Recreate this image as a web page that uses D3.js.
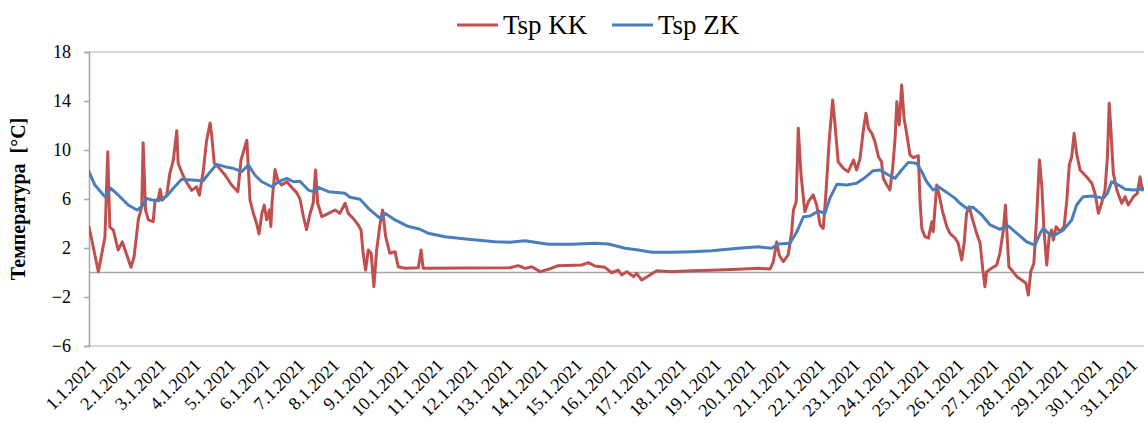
<!DOCTYPE html>
<html>
<head>
<meta charset="utf-8">
<script src="https://cdn.jsdelivr.net/npm/d3@7"></script>
<style>
  html, body { margin: 0; padding: 0; background: #fff; }
  svg { display: block; }
  text { font-family: "Liberation Serif", "Times New Roman", serif; fill: #000; }
</style>
</head>
<body>
<svg id="chart" width="1144" height="423"></svg>
<script>
// Day labels on the horizontal axis (one per day of January 2021)
const dayLabels = [
  "1.1.2021","2.1.2021","3.1.2021","4.1.2021","5.1.2021","6.1.2021","7.1.2021",
  "8.1.2021","9.1.2021","10.1.2021","11.1.2021","12.1.2021","13.1.2021","14.1.2021",
  "15.1.2021","16.1.2021","17.1.2021","18.1.2021","19.1.2021","20.1.2021","21.1.2021",
  "22.1.2021","23.1.2021","24.1.2021","25.1.2021","26.1.2021","27.1.2021","28.1.2021",
  "29.1.2021","30.1.2021","31.1.2021"
];

// Temperature axis ticks [°C]
const tempTicks = [-6, -2, 2, 6, 10, 14, 18];

// Series names
const seriesNames = ["Tsp KK", "Tsp ZK"];

// Tsp KK: [days since 1.1.2021 00:00, temperature °C]
const tspKK = [
  [0.00,3.74],[0.27,0.07],[0.46,2.9],[0.54,9.86],[0.60,3.7],[0.70,3.47],[0.84,1.84],
  [0.96,2.5],[1.04,1.84],[1.21,0.42],[1.30,1.29],[1.42,4.3],[1.52,5.37],[1.56,10.6],
  [1.63,5.1],[1.71,4.3],[1.85,4.15],[1.90,5.78],[2.00,6.05],[2.05,6.8],[2.11,5.9],
  [2.24,6.3],[2.33,8.1],[2.43,9.18],[2.53,11.58],[2.57,8.9],[2.67,8.2],[2.77,7.55],
  [2.96,6.7],[3.10,7.0],[3.18,6.3],[3.29,8.2],[3.39,10.8],[3.49,12.2],[3.54,11.1],
  [3.61,8.9],[3.73,8.6],[3.92,7.96],[4.11,7.14],[4.29,6.6],[4.38,9.18],[4.45,9.86],
  [4.55,10.8],[4.59,8.6],[4.64,5.9],[4.74,4.8],[4.83,4.0],[4.90,3.14],[4.98,4.8],
  [5.05,5.5],[5.12,4.3],[5.20,5.1],[5.24,3.74],[5.28,5.9],[5.36,8.4],[5.44,7.55],
  [5.55,7.14],[5.70,7.4],[5.84,6.95],[5.99,6.5],[6.08,6.0],[6.18,4.55],[6.27,3.5],
  [6.37,4.8],[6.46,5.65],[6.53,8.37],[6.59,5.65],[6.71,4.55],[6.90,4.83],[7.09,5.1],
  [7.23,4.83],[7.38,5.65],[7.47,4.83],[7.62,4.4],[7.76,3.88],[7.84,3.47],[7.90,1.57],
  [7.97,0.2],[8.05,1.84],[8.13,1.57],[8.21,-1.16],[8.29,1.84],[8.39,4.0],[8.46,5.1],
  [8.55,2.92],[8.67,1.57],[8.82,1.7],[8.91,0.47],[9.11,0.34],[9.49,0.39],[9.57,1.84],
  [9.63,0.34],[12.13,0.39],[12.37,0.56],[12.57,0.34],[12.76,0.47],[13.00,0.07],
  [13.24,0.26],[13.52,0.56],[14.20,0.61],[14.39,0.8],[14.58,0.53],[14.87,0.42],
  [15.06,-0.02],[15.25,0.2],[15.35,-0.2],[15.50,0.07],[15.69,-0.34],[15.78,-0.07],
  [15.93,-0.61],[16.12,-0.29],[16.36,0.15],[16.79,0.07],[17.37,0.15],[18.14,0.2],
  [18.71,0.26],[19.29,0.34],[19.63,0.29],[19.72,0.88],[19.82,2.5],[19.89,1.43],
  [20.01,0.88],[20.15,1.43],[20.25,3.33],[20.30,5.1],[20.38,5.78],[20.44,11.77],
  [20.52,7.96],[20.63,4.96],[20.73,5.78],[20.87,6.33],[20.97,5.5],[21.07,3.88],
  [21.16,3.6],[21.24,6.6],[21.33,10.68],[21.43,14.08],[21.50,12.04],[21.59,9.04],
  [21.74,8.5],[21.88,8.23],[22.03,9.18],[22.12,8.37],[22.22,9.32],[22.31,11.5],
  [22.39,13.0],[22.46,11.77],[22.56,11.36],[22.65,10.68],[22.75,9.45],[22.84,9.04],
  [22.89,7.69],[22.99,7.14],[23.08,6.73],[23.16,8.5],[23.23,10.95],[23.28,13.94],
  [23.35,12.04],[23.42,15.3],[23.49,12.6],[23.57,11.22],[23.66,9.6],[23.76,9.37],
  [23.90,9.53],[23.95,5.78],[24.00,3.6],[24.09,2.92],[24.19,2.8],[24.29,4.15],
  [24.33,3.33],[24.43,7.14],[24.50,6.33],[24.60,4.96],[24.72,3.74],[24.81,3.2],
  [24.96,2.8],[25.05,2.38],[25.15,1.02],[25.22,2.38],[25.29,4.83],[25.37,5.37],
  [25.44,4.55],[25.58,3.2],[25.68,2.38],[25.76,0.2],[25.82,-1.16],[25.87,0.07],
  [26.01,0.34],[26.16,0.61],[26.25,1.57],[26.35,3.47],[26.41,5.5],[26.46,2.92],
  [26.51,0.47],[26.59,0.2],[26.74,-0.34],[26.88,-0.61],[27.00,-0.88],[27.07,-1.84],
  [27.14,0.07],[27.23,0.75],[27.31,4.55],[27.39,9.18],[27.46,7.0],[27.52,3.47],
  [27.60,0.61],[27.67,2.92],[27.74,3.47],[27.79,2.65],[27.87,3.74],[27.98,3.33],
  [28.10,3.74],[28.18,5.9],[28.25,8.78],[28.32,9.45],[28.39,11.36],[28.46,9.73],
  [28.56,8.37],[28.75,7.82],[28.90,7.28],[28.99,6.46],[29.09,4.83],[29.18,5.65],
  [29.28,6.73],[29.35,9.45],[29.40,13.81],[29.45,11.63],[29.52,8.1],[29.62,6.73],
  [29.76,5.65],[29.86,6.19],[29.95,5.51],[30.10,6.19],[30.21,6.46],[30.29,7.82],
  [30.35,6.73],[30.45,6.9]
];

// Tsp ZK: [days since 1.1.2021 00:00, temperature °C]
const tspZK = [
  [0.00,8.23],[0.17,7.14],[0.46,6.19],[0.63,6.87],[0.84,6.33],[1.13,5.51],[1.38,5.1],
  [1.52,5.37],[1.66,6.05],[1.81,5.92],[2.00,5.86],[2.24,6.24],[2.43,6.87],[2.67,7.61],
  [2.96,7.55],[3.29,7.49],[3.46,8.1],[3.68,8.83],[3.92,8.64],[4.16,8.5],[4.40,8.23],
  [4.59,8.78],[4.78,7.96],[4.98,7.41],[5.27,7.0],[5.46,7.41],[5.70,7.69],[5.89,7.41],
  [6.08,7.45],[6.32,6.73],[6.46,6.6],[6.61,6.95],[6.90,6.6],[7.38,6.46],[7.52,6.14],
  [7.81,5.98],[8.05,5.24],[8.39,4.42],[8.53,4.83],[8.82,4.29],[9.16,3.8],[9.54,3.53],
  [9.78,3.2],[10.26,2.92],[10.93,2.71],[11.70,2.51],[12.13,2.46],[12.57,2.6],
  [12.95,2.43],[13.24,2.3],[13.91,2.3],[14.58,2.38],[14.97,2.33],[15.45,1.98],
  [15.83,1.84],[16.22,1.65],[16.79,1.65],[17.37,1.7],[17.95,1.78],[18.71,1.98],
  [19.29,2.1],[19.67,1.98],[19.87,2.33],[20.20,2.38],[20.40,3.33],[20.59,4.55],
  [20.78,4.61],[21.02,5.02],[21.21,4.83],[21.35,6.05],[21.55,7.2],[21.84,7.14],
  [22.12,7.28],[22.36,7.74],[22.60,8.31],[22.80,8.37],[23.04,7.96],[23.23,7.69],
  [23.42,8.37],[23.61,8.99],[23.85,8.91],[24.00,8.23],[24.14,7.41],[24.33,6.73],
  [24.48,7.0],[24.72,6.54],[24.96,6.05],[25.10,5.65],[25.29,5.24],[25.48,5.32],
  [25.73,4.7],[25.97,3.88],[26.25,3.53],[26.49,3.8],[26.74,3.2],[27.02,2.51],
  [27.26,2.24],[27.41,3.2],[27.50,3.6],[27.70,3.06],[27.84,3.06],[28.08,3.47],
  [28.32,4.29],[28.46,5.51],[28.65,6.19],[28.94,6.24],[29.23,6.05],[29.35,6.46],
  [29.47,7.41],[29.67,7.14],[29.86,6.79],[30.10,6.73],[30.29,6.79],[30.45,6.9]
];

const colors = ["#C0504D", "#4A7EBB"];

const svg = d3.select("#chart");
const W = 1144, H = 423;

// Plot frame
const plotLeft = 89, plotTop = 52, plotBottom = 346;
const dayWidth = 34.7;

const x = d3.scaleLinear()
  .domain([0, dayLabels.length])
  .range([plotLeft, plotLeft + dayLabels.length * dayWidth]);

const y = d3.scaleLinear()
  .domain([-6, 18])
  .range([plotBottom, plotTop]);

const axisColor = "#A6A6A6";
const plotRight = W;

// Top and bottom borders of the plot area
[18, -6].forEach(v => {
  svg.append("line")
    .attr("x1", plotLeft).attr("x2", plotRight)
    .attr("y1", y(v)).attr("y2", y(v))
    .attr("stroke", "#C8C8C8").attr("stroke-width", 1.5);
});

// Zero line
svg.append("line")
  .attr("x1", plotLeft).attr("x2", plotRight)
  .attr("y1", y(0)).attr("y2", y(0))
  .attr("stroke", axisColor).attr("stroke-width", 1.5);

// Y axis
const yAxis = d3.axisLeft(y)
  .tickValues(tempTicks)
  .tickSize(5)
  .tickPadding(13)
  .tickFormat(d3.format("d"));

const gy = svg.append("g")
  .attr("transform", `translate(${plotLeft},0)`)
  .call(yAxis);
gy.select(".domain").attr("stroke", axisColor).attr("stroke-width", 1.5);
gy.selectAll(".tick line").attr("stroke", axisColor).attr("stroke-width", 1.5);
gy.selectAll(".tick text")
  .style("font-family", "'Liberation Serif', 'Times New Roman', serif")
  .style("font-size", "18px")
  .attr("fill", "#000");

// X axis labels, rotated
const gx = svg.append("g");
gx.selectAll("text")
  .data(dayLabels)
  .join("text")
  .attr("transform", (d, i) => `translate(${x(i) + 4},${plotBottom + 16}) rotate(-45)`)
  .attr("text-anchor", "end")
  .attr("dy", "0.35em")
  .style("font-size", "18px")
  .text(d => d);

// Y axis title
svg.append("text")
  .attr("transform", `translate(25,${(plotTop + plotBottom) / 2}) rotate(-90)`)
  .attr("text-anchor", "middle")
  .style("font-size", "20px")
  .style("font-weight", "bold")
  .style("white-space", "pre")
  .text("Температура  [°C]");

// Series lines
const line = d3.line()
  .x(d => x(d[0]))
  .y(d => y(d[1]))
  .curve(d3.curveLinear);

svg.append("clipPath").attr("id", "plotClip")
  .append("rect")
  .attr("x", plotLeft).attr("y", 0)
  .attr("width", W - plotLeft).attr("height", H);

const series = [tspKK, tspZK];
// ZK is drawn after KK so it sits on top
svg.append("g").attr("clip-path", "url(#plotClip)")
  .selectAll("path")
  .data(series)
  .join("path")
  .attr("d", line)
  .attr("fill", "none")
  .attr("stroke", (d, i) => colors[i])
  .attr("stroke-width", 3)
  .attr("stroke-linejoin", "round")
  .attr("stroke-linecap", "round");

// Legend
const legendItems = [
  { x: 457, name: seriesNames[0], color: colors[0] },
  { x: 612, name: seriesNames[1], color: colors[1] }
];
const lg = svg.append("g");
legendItems.forEach(item => {
  lg.append("line")
    .attr("x1", item.x).attr("x2", item.x + 41)
    .attr("y1", 25).attr("y2", 25)
    .attr("stroke", item.color).attr("stroke-width", 3);
  lg.append("text")
    .attr("x", item.x + 46)
    .attr("y", 34)
    .style("font-size", "27px")
    .text(item.name);
});
</script>
</body>
</html>
